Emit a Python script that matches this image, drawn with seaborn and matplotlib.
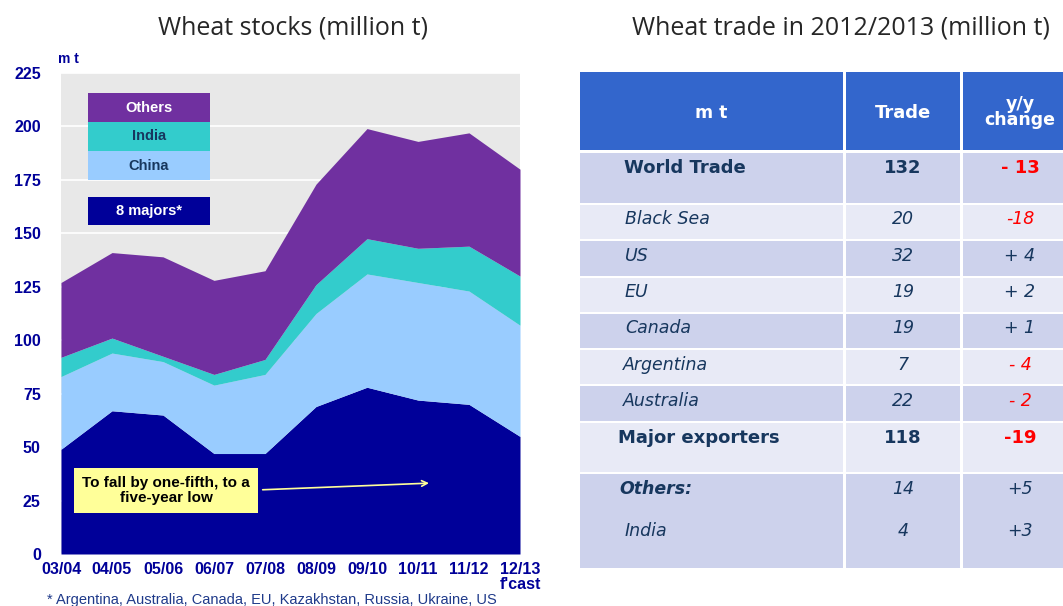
import numpy as np
import matplotlib.pyplot as plt
import seaborn as sns
from matplotlib.patches import Rectangle

# Data
seasons = ["03/04", "04/05", "05/06", "06/07", "07/08", "08/09", "09/10", "10/11", "11/12", "12/13"]
majors = [49, 67, 65, 47, 47, 69, 78, 72, 70, 55]
china = [34, 27, 25, 32, 37, 43.5, 53, 55, 53, 52]
india = [9, 7, 2.5, 5, 7, 13.5, 16.5, 16, 21, 23]
others = [35, 40, 46.5, 44, 41.5, 47, 51.5, 50, 53, 50]
y_ticks = [0, 25, 50, 75, 100, 125, 150, 175, 200, 225]

row_names = ["World Trade", "Black Sea", "US", "EU", "Canada", "Argentina", "Australia",
             "Major exporters", "Others:", "India"]
trade = ["132", "20", "32", "19", "19", "7", "22", "118", "14", "4"]
change = ["- 13", "-18", "+ 4", "+ 2", "+ 1", "- 4", "- 2", "-19", "+5", "+3"]

sns.set_style("darkgrid", {"axes.facecolor": "#E8E8E8", "grid.color": "white"})
plt.rcParams['font.family'] = ['Liberation Sans', 'DejaVu Sans']

navy = "#000099"
txt = "#17375E"
c_major, c_china, c_india, c_others = "#000099", "#99CCFF", "#33CCCC", "#7030A0"

fig = plt.figure(figsize=(10.63, 6.06), dpi=100)

# Left: stacked area chart
ax = fig.add_axes([61 / 1063, 52 / 606, 459 / 1063, 481 / 606])
x = np.arange(len(seasons))
ax.stackplot(x, majors, china, india, others,
             colors=[c_major, c_china, c_india, c_others], linewidth=0)
ax.set_xlim(0, 9)
ax.set_ylim(0, 225)
ax.set_yticks(y_ticks)
ax.set_xticks(x)
ax.set_xticklabels([s if s != "12/13" else "12/13\nf'cast" for s in seasons])
for lab in ax.get_xticklabels():
    lab.set_fontweight("bold")
    lab.set_color(navy)
    lab.set_fontsize(11.5)
    lab.set_linespacing(0.95)
ax.tick_params(axis="x", pad=6, length=0)
ax.tick_params(axis="y", pad=14.5, length=0, labelsize=11.5, labelcolor=navy)
for lab in ax.get_yticklabels():
    lab.set_fontweight("bold")
ax.grid(axis="x", visible=False)
ax.grid(axis="y", color="white", linewidth=1.2)
ax.set_axisbelow(True)
for s in ax.spines.values():
    s.set_visible(False)

ax.text(-0.006, 1.029, "m t", transform=ax.transAxes, fontsize=10, fontweight="bold",
        color=navy, ha="left", va="center")

# legend boxes
leg = [("Others", c_others, "white", 0.928), ("India", c_india, txt, 0.868),
       ("China", c_china, txt, 0.807), ("8 majors*", c_major, "white", 0.713)]
for name, col, tc, yc in leg:
    ax.add_patch(Rectangle((0.0588, yc - 0.03), 0.266, 0.06, transform=ax.transAxes,
                           facecolor=col, edgecolor="none", zorder=5))
    ax.text(0.0588 + 0.133, yc, name, transform=ax.transAxes, ha="center", va="center",
            fontsize=10.5, fontweight="bold", color=tc, zorder=6)

# annotation
ax.annotate("", xy=(7.27, 33.2), xytext=(3.9, 30),
            arrowprops=dict(arrowstyle="->", color="#FFFF99", lw=1.2), zorder=6)
ax.text(2.06, 29.7, "To fall by one-fifth, to a\nfive-year low", ha="center", va="center",
        fontsize=11, fontweight="bold", color="black", zorder=7, linespacing=1.05,
        bbox=dict(boxstyle="square,pad=0.55", facecolor="#FFFF99", edgecolor="none"))

fig.text(293 / 1063, 1 - 28 / 606, "Wheat stocks (million t)", ha="center", va="center",
         fontsize=18, family=["Open Sans", "DejaVu Sans"])
fig.text(841 / 1063, 1 - 28 / 606, "Wheat trade in 2012/2013 (million t)", ha="center",
         va="center", fontsize=18, family=["Open Sans", "DejaVu Sans"])
fig.text(47 / 1063, 1 - 600 / 606, "* Argentina, Australia, Canada, EU, Kazakhstan, Russia, Ukraine, US",
         ha="left", va="center", fontsize=10.5, color="#1F3A8A")

# Right: table
tx = fig.add_axes([580 / 1063, 0, 483 / 1063, 1])
tx.set_xlim(580, 1063)
tx.set_ylim(606, 0)
tx.axis("off")

tfont = ["DejaVu Sans"]
cols = [(579, 843), (846, 960), (963, 1080)]
dark, light = "#CDD2EC", "#E8EAF6"
for x0, x1 in cols:
    tx.add_patch(Rectangle((x0, 72), x1 - x0, 78, facecolor="#3366CC", edgecolor="none"))
tx.text(711, 113, "m t", ha="center", va="center", color="white", fontsize=12.5,
        fontweight="bold", family=tfont)
tx.text(903, 113, "Trade", ha="center", va="center", color="white", fontsize=13,
        fontweight="bold", family=tfont)
tx.text(1020, 112, "y/y\nchange", ha="center", va="center", color="white", fontsize=12.5,
        fontweight="bold", linespacing=0.85, family=tfont)

bands = [(153, 203), (205, 239), (241, 276), (278, 312), (314, 348), (350, 384),
         (386, 421), (423, 472), (474, 568)]
for i, (y0, y1) in enumerate(bands):
    for x0, x1 in cols:
        tx.add_patch(Rectangle((x0, y0), x1 - x0, y1 - y0,
                               facecolor=dark if i % 2 == 0 else light, edgecolor="none"))

text_y = [168, 219, 256, 292, 328, 365, 401, 438, 489, 531]
text_x = [624, 625, 625, 625, 625, 623, 623, 618, 619, 625]
bold_rows = {"World Trade", "Major exporters"}
for name, tr, ch, ty, lx in zip(row_names, trade, change, text_y, text_x):
    is_bold = name in bold_rows
    style = "normal" if is_bold else "italic"
    weight = "bold" if is_bold or name == "Others:" else "normal"
    fs = 13 if is_bold else 12.5
    tx.text(lx, ty, name, ha="left", va="center", fontsize=fs, family=tfont,
            color=txt, style=style, fontweight=weight)
    tx.text(903, ty, tr, ha="center", va="center", fontsize=fs, family=tfont,
            color=txt, style=style, fontweight="bold" if is_bold else "normal")
    tx.text(1020, ty, ch, ha="center", va="center", fontsize=fs, family=tfont,
            color="red" if ch.startswith("-") else txt, style=style,
            fontweight="bold" if is_bold else "normal")

plt.savefig("out.png", dpi=100)
